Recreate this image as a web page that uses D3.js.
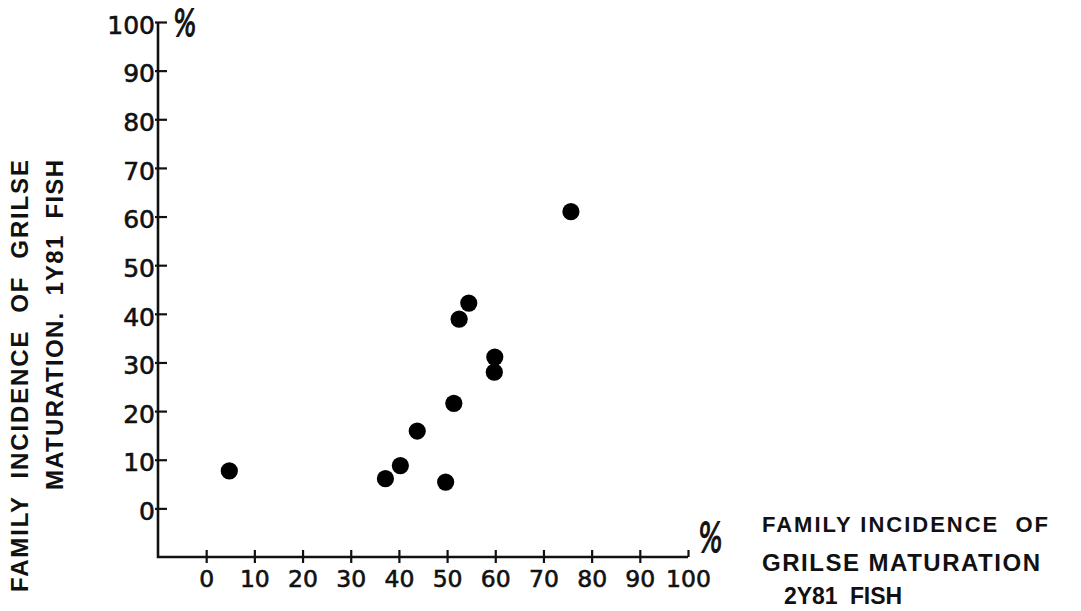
<!DOCTYPE html>
<html>
<head>
<meta charset="utf-8">
<script src="https://cdn.jsdelivr.net/npm/d3@7"></script>
<style>
  html, body { margin: 0; padding: 0; background: #fff; }
  svg { display: block; }
</style>
</head>
<body>
<svg id="chart" width="1081" height="611"></svg>
<script>
// Family incidence of grilse maturation (%), one point per family
const incidence2Y81 = [4.8, 37.2, 40.3, 43.8, 49.7, 51.4, 52.5, 54.5, 59.8, 59.9, 75.7];
const incidence1Y81 = [7.7, 6.1, 8.8, 15.9, 5.4, 21.6, 38.9, 42.2, 28.0, 31.1, 61.0];

const xTicks = [0, 10, 20, 30, 40, 50, 60, 70, 80, 90, 100];
const yTicks = [0, 10, 20, 30, 40, 50, 60, 70, 80, 90, 100];

const xTitle = ["FAMILY INCIDENCE  OF", "GRILSE MATURATION", "2Y81  FISH"];
const yTitle = ["FAMILY  INCIDENCE  OF  GRILSE", "MATURATION.  1Y81  FISH"];

const svg = d3.select("#chart");
const ink = "#111";

const x = d3.scaleLinear().domain([-10, 100]).range([158, 688]);
const y = d3.scaleLinear().domain([-10, 100]).range([557, 22]);

// axis lines meeting at the lower-left corner
svg.append("path")
  .attr("d", `M${x(-10)},${y(100)} L${x(-10)},${y(-10)} L${x(100)},${y(-10)}`)
  .attr("fill", "none").attr("stroke", ink).attr("stroke-width", 2.6)
  .attr("stroke-linejoin", "miter");

// bottom axis
const xAxis = svg.append("g")
  .attr("transform", `translate(0,${y(-10)})`)
  .call(d3.axisBottom(x).tickValues(xTicks).tickSize(0).tickPadding(0));
xAxis.select(".domain").remove();
xAxis.selectAll(".tick line")
  .attr("y1", -7).attr("y2", d => d === 100 ? 0 : 6)
  .attr("stroke", ink).attr("stroke-width", 2.2);
xAxis.selectAll(".tick text")
  .attr("y", 30).attr("dy", 0)
  .attr("font-family", "DejaVu Sans").attr("font-size", 23.5)
  .attr("fill", ink).attr("stroke", ink).attr("stroke-width", 0.6);

// left axis
const yAxis = svg.append("g")
  .attr("transform", `translate(${x(-10)},0)`)
  .call(d3.axisLeft(y).tickValues(yTicks).tickSize(0).tickPadding(0));
yAxis.select(".domain").remove();
yAxis.selectAll(".tick line")
  .attr("x1", -3).attr("x2", 9)
  .attr("stroke", ink).attr("stroke-width", 2.2);
yAxis.selectAll(".tick text")
  .attr("x", -3).attr("dy", "0.45em")
  .attr("font-family", "DejaVu Sans").attr("font-size", 25)
  .attr("fill", ink).attr("stroke", ink).attr("stroke-width", 0.6);

// percent signs at the axis ends
svg.append("text")
  .attr("transform", `translate(${x(-10) + 15},36) scale(0.66,1)`)
  .attr("font-family", "DejaVu Sans").attr("font-style", "oblique")
  .attr("font-size", 38).attr("fill", ink)
  .attr("stroke", ink).attr("stroke-width", 1.2).text("%");
svg.append("text")
  .attr("transform", `translate(${x(100) + 10},552) scale(0.66,1)`)
  .attr("font-family", "DejaVu Sans").attr("font-style", "oblique")
  .attr("font-size", 40).attr("fill", ink)
  .attr("stroke", ink).attr("stroke-width", 1.2).text("%");

// data points
svg.append("g").selectAll("circle")
  .data(incidence2Y81.map((v, i) => [v, incidence1Y81[i]]))
  .join("circle")
  .attr("cx", d => x(d[0]))
  .attr("cy", d => y(d[1]))
  .attr("r", 8.6)
  .attr("fill", "#000");

// horizontal axis title
const xt = svg.append("g")
  .attr("font-family", "Liberation Sans").attr("font-weight", "bold").attr("fill", ink);
xt.append("text").attr("x", 762).attr("y", 532).attr("font-size", 22)
  .attr("textLength", 286).attr("lengthAdjust", "spacing")
  .style("white-space", "pre").text(xTitle[0]);
xt.append("text").attr("x", 762).attr("y", 571).attr("font-size", 24)
  .attr("textLength", 278).attr("lengthAdjust", "spacing")
  .style("white-space", "pre").text(xTitle[1]);
xt.append("text").attr("x", 784).attr("y", 604).attr("font-size", 23)
  .attr("textLength", 118).attr("lengthAdjust", "spacing")
  .style("white-space", "pre").text(xTitle[2]);

// vertical axis title
const yt = svg.append("g")
  .attr("font-family", "Liberation Sans").attr("font-weight", "bold").attr("fill", ink);
yt.append("text")
  .attr("transform", "translate(28,592) rotate(-90)")
  .attr("font-size", 24)
  .attr("textLength", 432).attr("lengthAdjust", "spacing")
  .style("white-space", "pre").text(yTitle[0]);
yt.append("text")
  .attr("transform", "translate(63,490) rotate(-90)")
  .attr("font-size", 24)
  .attr("textLength", 330).attr("lengthAdjust", "spacing")
  .style("white-space", "pre").text(yTitle[1]);
</script>
</body>
</html>
